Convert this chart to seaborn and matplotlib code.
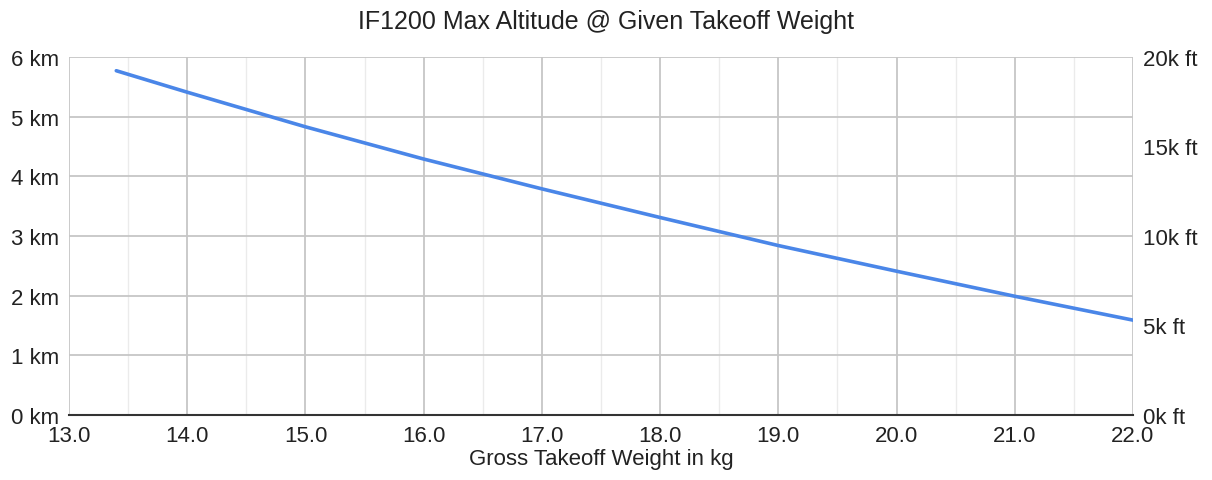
import matplotlib
matplotlib.use("Agg")
import matplotlib.pyplot as plt
import seaborn as sns
import numpy as np
import pandas as pd

# takeoff weight (kg) vs max altitude (km)
weight_kg = [13.4, 14.0, 15.0, 16.0, 17.0, 18.0, 19.0, 20.0, 21.0, 22.0]
altitude_km = [5.77, 5.41, 4.83, 4.29, 3.79, 3.31, 2.84, 2.41, 1.99, 1.59]

km_ticks = [0, 1, 2, 3, 4, 5, 6]
ft_ticks = [0, 5, 10, 15, 20]
x_ticks = [13.0, 14.0, 15.0, 16.0, 17.0, 18.0, 19.0, 20.0, 21.0, 22.0]

sns.set_style("white")
plt.rcParams['font.family'] = ['Liberation Sans', 'DejaVu Sans']

df = pd.DataFrame({"weight": weight_kg, "alt": altitude_km})

fig = plt.figure(figsize=(12.12, 4.81), dpi=100)
ax = fig.add_axes([69/1212, 1-416/481, (1133-69)/1212, (416-58)/481])

# grid: minor at half kg, major every kg / km
for x in np.arange(13.5, 22, 1.0):
	ax.axvline(x, color="#ebebeb", lw=1, zorder=0)
for x in x_ticks:
	ax.axvline(x, color="#c6c6c6", lw=1.3, zorder=0)
for y in km_ticks[1:]:
	ax.axhline(y, color="#c6c6c6", lw=1.3, zorder=0)

sns.lineplot(data=df, x="weight", y="alt", ax=ax, color="#4a86e8", lw=2.6, zorder=3)

ax.set_xlim(13, 22)
ax.set_ylim(0, 6)
ax.set_xticks(x_ticks)
ax.set_xticklabels(["%.1f" % v for v in x_ticks])
ax.set_yticks(km_ticks)
ax.set_yticklabels(["%d km" % v for v in km_ticks])
ax.tick_params(axis="x", length=0, labelsize=16, colors="#222222", pad=7)
ax.tick_params(axis="y", length=0, labelsize=16, colors="#222222", pad=7)
for side in ["top", "left", "right"]:
	ax.spines[side].set_visible(False)
ax.spines["bottom"].set_color("#333333")
ax.spines["bottom"].set_linewidth(1.5)

ax.set_xlabel("Gross Takeoff Weight in kg", fontsize=16, color="#222222", labelpad=2)
ax.set_ylabel("")

ax2 = ax.twinx()
ax2.set_ylim(0, 20)
ax2.set_yticks(ft_ticks)
ax2.set_yticklabels(["%dk ft" % v for v in ft_ticks])
ax2.tick_params(axis="y", length=0, labelsize=16, colors="#222222", pad=7)
for side in ["top", "left", "right", "bottom"]:
	ax2.spines[side].set_visible(False)

fig.suptitle("IF1200 Max Altitude @ Given Takeoff Weight", fontsize=18, color="#222222", y=1-22/481, va="center")

fig.savefig("out.png", dpi=100)
